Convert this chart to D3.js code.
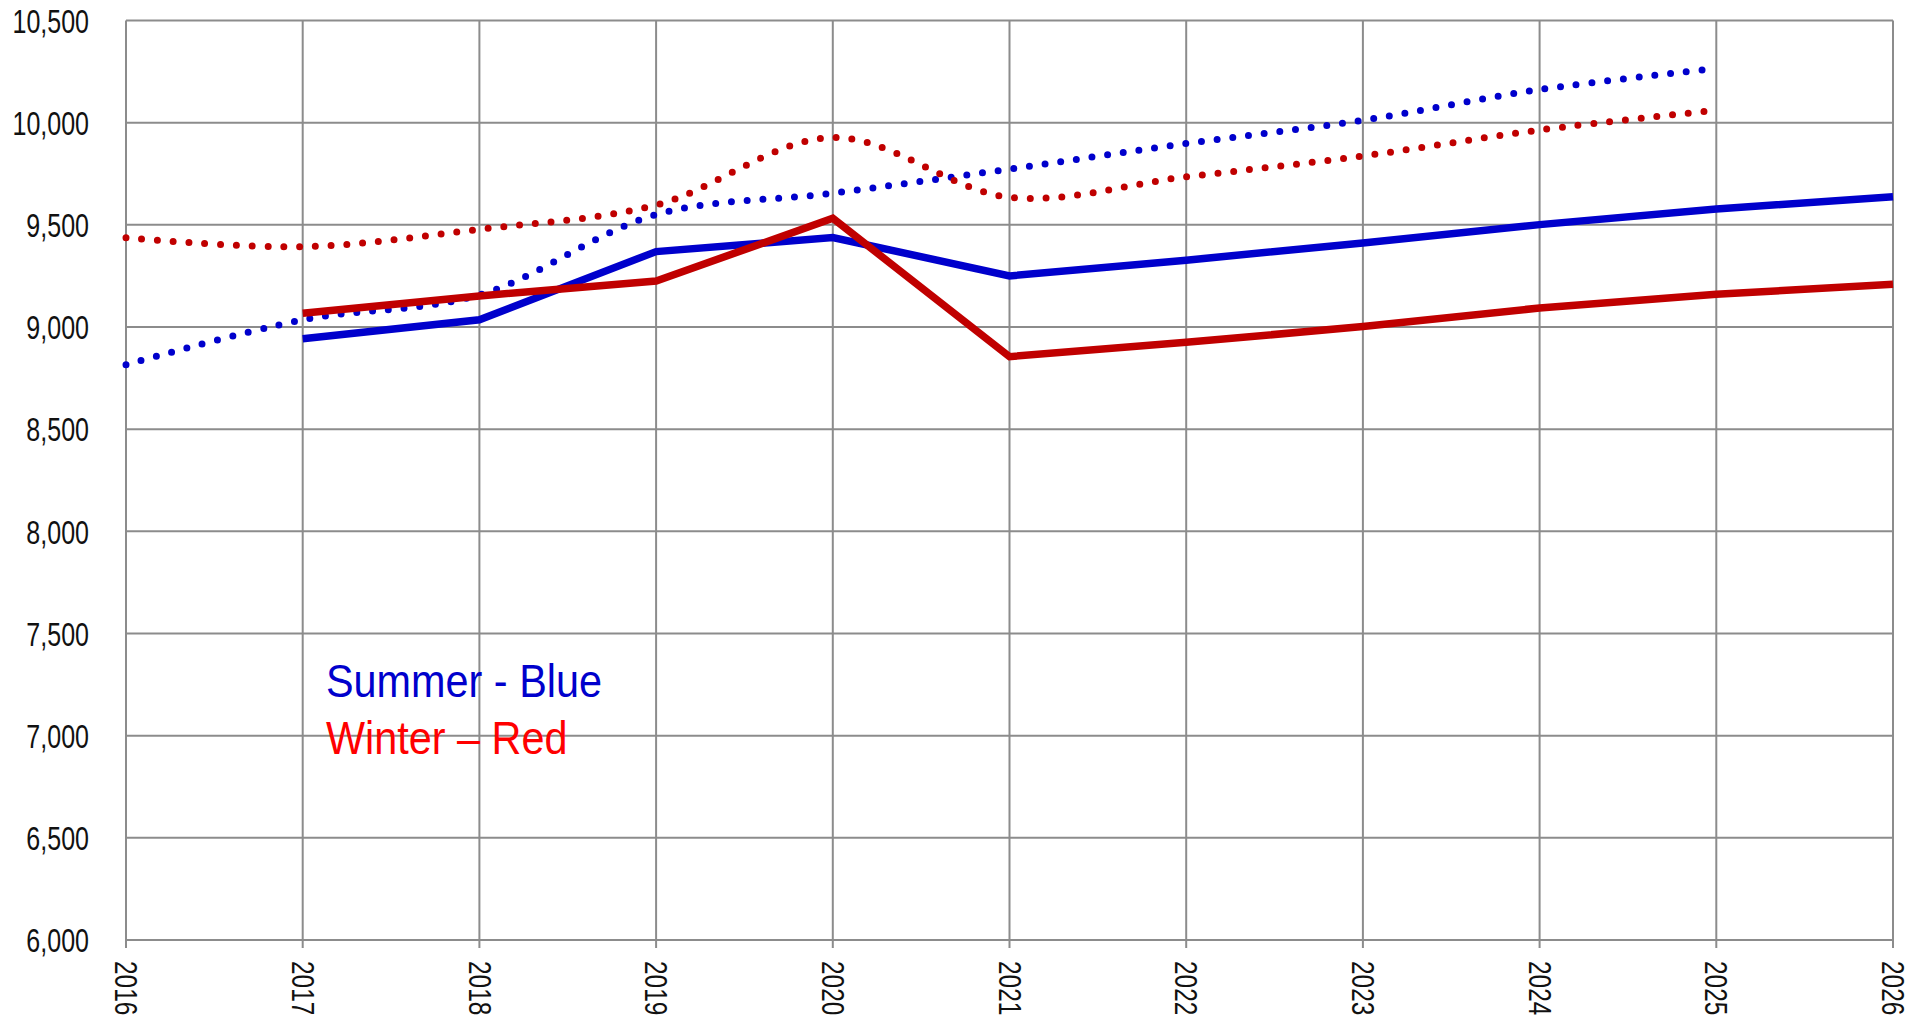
<!DOCTYPE html>
<html>
<head>
<meta charset="utf-8">
<script src="https://cdn.jsdelivr.net/npm/d3@7"></script>
<style>
  html, body { margin: 0; padding: 0; background: #fff; }
  svg { display: block; }
  text { font-family: "Liberation Sans", Arial, sans-serif; }
</style>
</head>
<body>
<svg id="chart" width="1925" height="1020"></svg>
<script>
const years = [2016, 2017, 2018, 2019, 2020, 2021, 2022, 2023, 2024, 2025, 2026];
const summerActual = [null, 8942, 9035, 9369, 9438, 9250, 9327, 9411, 9501, 9578, 9637];
const winterActual = [null, 9067, 9152, 9225, 9532, 8855, 8925, 9002, 9093, 9160, 9209];
const summerPrior  = [8815, 9035, 9157, 9550, 9655, 9773, 9898, 10012, 10162, 10265, null];
const winterPrior  = [9437, 9393, 9478, 9597, 9927, 9635, 9735, 9837, 9964, 10061, null];
const yTicks = [6000, 6500, 7000, 7500, 8000, 8500, 9000, 9500, 10000, 10500];
const legendLabels = ["Summer - Blue", "Winter \u2013 Red"];

const svg = d3.select("#chart");
const plotLeft = 126, plotRight = 1893, plotTop = 20.5, plotBottom = 940;

const x = d3.scaleLinear().domain([2016, 2026]).range([plotLeft, plotRight]);
const y = d3.scaleLinear().domain([6000, 10500]).range([plotBottom, plotTop]);

const gridColor = "#8c8c8c";
const fontStack = '"Liberation Sans", Arial, sans-serif';

// condense text horizontally (Arial Narrow look)
function condense(sel, k) {
  sel.each(function () {
    const len = this.getComputedTextLength();
    d3.select(this).attr("textLength", len * k).attr("lengthAdjust", "spacingAndGlyphs");
  });
}

// horizontal gridlines
svg.append("g").selectAll("line").data(yTicks).join("line")
  .attr("x1", plotLeft).attr("x2", plotRight)
  .attr("y1", d => y(d)).attr("y2", d => y(d))
  .attr("stroke", gridColor).attr("stroke-width", 2);

// vertical gridlines (with tick extension below)
svg.append("g").selectAll("line").data(years).join("line")
  .attr("x1", d => x(d)).attr("x2", d => x(d))
  .attr("y1", plotTop).attr("y2", plotBottom + 8)
  .attr("stroke", gridColor).attr("stroke-width", 2);

// y labels
const yAxis = d3.axisLeft(y).tickValues(yTicks).tickFormat(d3.format(",")).tickSize(0).tickPadding(37);
const ya = svg.append("g").attr("transform", `translate(${plotLeft},0)`).call(yAxis);
ya.select(".domain").remove();
ya.selectAll("text").attr("font-size", 32.5).attr("fill", "#111").style("font-family", fontStack)
  .attr("dy", "0.36em")
  .call(condense, 0.77);

// x labels rotated
const xAxis = d3.axisBottom(x).tickValues(years).tickFormat(d3.format("d")).tickSize(0);
const xa = svg.append("g").attr("transform", `translate(0,${plotBottom})`).call(xAxis);
xa.select(".domain").remove();
xa.selectAll("text")
  .attr("font-size", 31.5).attr("fill", "#111").style("font-family", fontStack)
  .attr("text-anchor", "start")
  .attr("transform", "rotate(90)")
  .attr("x", 21).attr("y", 0).attr("dy", "0.36em")
  .call(condense, 0.775);

const pts = arr => years.map((yr, i) => [yr, arr[i]]).filter(p => p[1] != null);

const solid = d3.line().x(d => x(d[0])).y(d => y(d[1]));
const smooth = d3.line().x(d => x(d[0])).y(d => y(d[1])).curve(d3.curveCatmullRom.alpha(0.5));

// dotted series
[[summerPrior, "#0000cc"], [winterPrior, "#c00000"]].forEach(([arr, col]) => {
  svg.append("path").datum(pts(arr))
    .attr("d", smooth).attr("fill", "none")
    .attr("stroke", col).attr("stroke-width", 7)
    .attr("stroke-linecap", "round")
    .attr("stroke-dasharray", "0 15.8");
});

// solid series
[[summerActual, "#0000cc"], [winterActual, "#c00000"]].forEach(([arr, col]) => {
  svg.append("path").datum(pts(arr))
    .attr("d", solid).attr("fill", "none")
    .attr("stroke", col).attr("stroke-width", 7.5)
    .attr("stroke-linejoin", "miter");
});

// legend text
svg.append("text").attr("x", 326).attr("y", 696.5)
  .attr("font-size", 46.5).attr("fill", "#0000cc").style("font-family", fontStack)
  .text(legendLabels[0]).call(condense, 0.89);
svg.append("text").attr("x", 326).attr("y", 754)
  .attr("font-size", 46.5).attr("fill", "#ff0000").style("font-family", fontStack)
  .text(legendLabels[1]).call(condense, 0.89);
</script>
</body>
</html>
